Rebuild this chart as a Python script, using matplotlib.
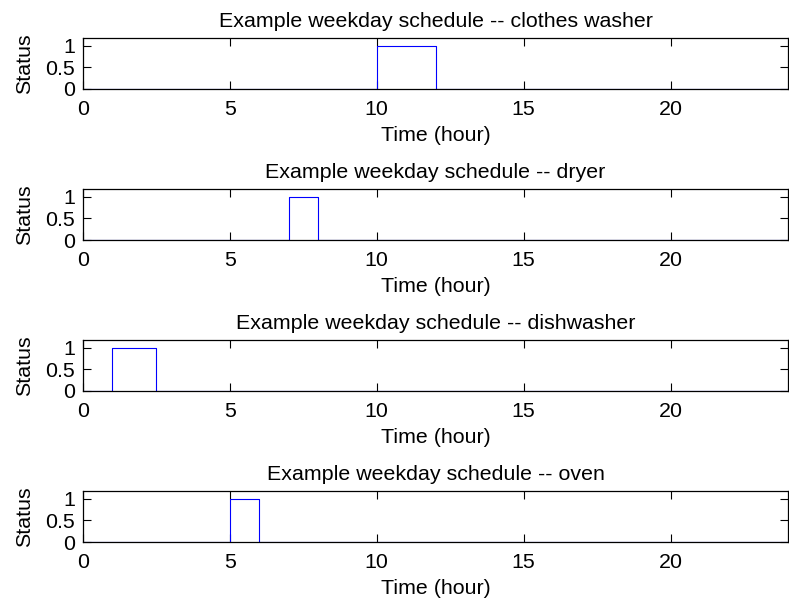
import matplotlib
matplotlib.use("Agg")
import matplotlib.pyplot as plt

plt.rcParams['font.family'] = ['Liberation Sans', 'DejaVu Sans']

appliances = ['clothes washer', 'dryer', 'dishwasher', 'oven']
# on/off hours for each appliance on the example weekday
on_hours = [10, 7, 1, 5]
off_hours = [12, 8, 2.5, 6]

fig = plt.figure(figsize=(7.89, 6.03), dpi=100)

W, H = 789.0, 603.0
left, right = 83, 788
tops = [38, 189, 340, 491]
ax_h = 51
fs = 15.4

for i, name in enumerate(appliances):
    ax = fig.add_axes([left / W, 1 - (tops[i] + ax_h) / H, (right - left) / W, ax_h / H])
    t = [0, on_hours[i], on_hours[i], off_hours[i], off_hours[i], 24]
    s = [0, 0, 1, 1, 0, 0]
    ax.plot(t, s, color='blue', linewidth=0.8)
    ax.set_xlim(0, 24)
    ax.set_ylim(0, 1.18)
    ax.set_xticks([0, 5, 10, 15, 20])
    ax.set_yticks([0, 0.5, 1])
    ax.set_yticklabels(['0', '0.5', '1'])
    ax.tick_params(direction='in', length=6, width=0.8, top=True, right=True,
                   labelsize=fs)
    ax.tick_params(axis='x', pad=8)
    ax.tick_params(axis='y', pad=5.5)
    for sp in ax.spines.values():
        sp.set_linewidth(0.9)
    ax.set_title('Example weekday schedule -- ' + name, fontsize=fs, pad=8)
    ax.set_xlabel('Time (hour)', fontsize=fs, labelpad=5)
    ax.set_ylabel('Status', fontsize=fs, labelpad=8)

fig.savefig('out.png', dpi=100)
